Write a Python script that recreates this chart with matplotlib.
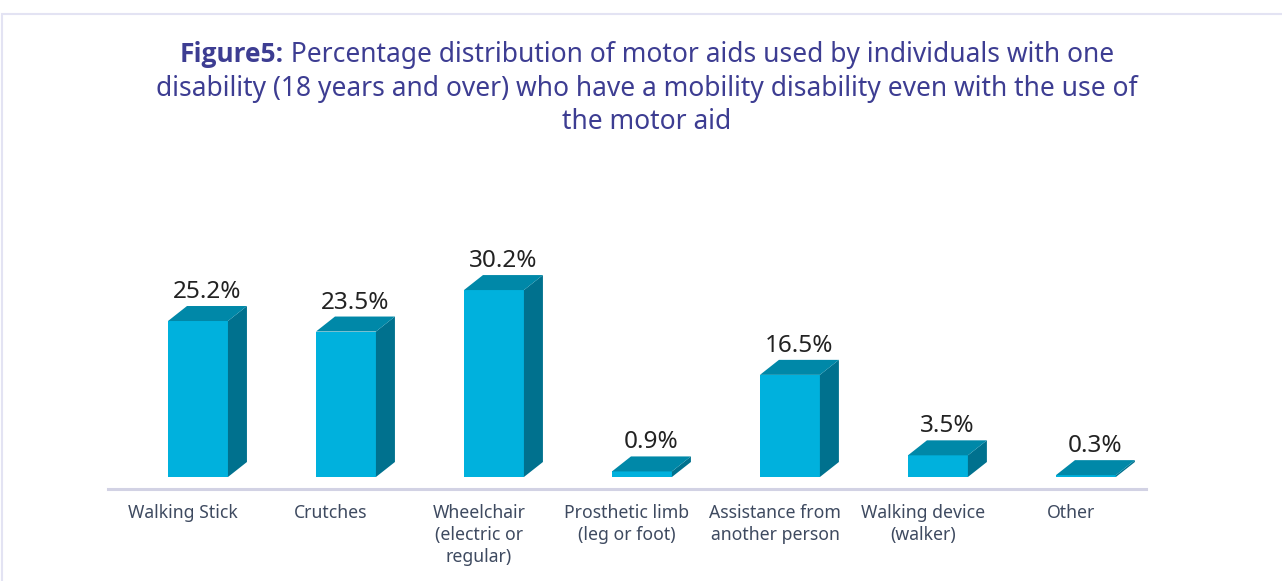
import matplotlib
matplotlib.use("Agg")
import matplotlib.pyplot as plt
from matplotlib.patches import Polygon, Rectangle

categories = ["Walking Stick", "Crutches", "Wheelchair\n(electric or\nregular)",
              "Prosthetic limb\n(leg or foot)", "Assistance from\nanother person",
              "Walking device\n(walker)", "Other"]
values = [25.2, 23.5, 30.2, 0.9, 16.5, 3.5, 0.3]
value_labels = ["25.2%", "23.5%", "30.2%", "0.9%", "16.5%", "3.5%", "0.3%"]
title_bold = "Figure5:"
title_line1 = " Percentage distribution of motor aids used by individuals with one"
title_rest = "disability (18 years and over) who have a mobility disability even with the use of\nthe motor aid"

W, H = 1282, 581
FONT = "Noto Sans"
plt.rcParams['font.family'] = [FONT, 'DejaVu Sans']

fig = plt.figure(figsize=(W / 100, H / 100), dpi=100)
fig.patch.set_facecolor("white")

# border
fig.patches.append(Rectangle((2 / W, -0.1), 1.2, (H - 14) / H + 0.1,
                             transform=fig.transFigure, fill=False,
                             edgecolor="#E3E3F3", linewidth=1.5))

ax_left, ax_right = 108, 1146
ax_base_px, ax_top_px = 489, 240
ax = fig.add_axes([ax_left / W, (H - ax_base_px) / H,
                   (ax_right - ax_left) / W, (ax_base_px - ax_top_px) / H])
px_per_unit = 6.19
ax.set_xlim(-0.507, len(values) - 1 + 0.507)
ax.set_ylim(-12 / px_per_unit, (477 - ax_top_px) / px_per_unit)
ax.axis("off")
ax.axhline(ax.get_ylim()[0], color="#D2D2E4", linewidth=2.2, clip_on=False)

front_c = "#00B1DD"
top_c = "#0088A8"
side_c = "#00718E"
bar_w = 0.405
bar_off = 0.101
dx = 19 / 148
dy = 15 / px_per_unit

for i, v in enumerate(values):
    x0 = i + bar_off - bar_w / 2
    x1 = x0 + bar_w
    ax.bar(i + bar_off, v, width=bar_w, color=front_c, linewidth=0, zorder=2)
    ax.add_patch(Polygon([(x1, 0), (x1 + dx, dy), (x1 + dx, v + dy), (x1, v)],
                         closed=True, facecolor=side_c, linewidth=0, zorder=2))
    ax.add_patch(Polygon([(x0, v), (x0 + dx, v + dy), (x1 + dx, v + dy), (x1, v)],
                         closed=True, facecolor=top_c, linewidth=0, zorder=3))
    ax.text(i + bar_off + dx / 2, v + dy + 14 / px_per_unit, value_labels[i],
            ha="center", va="center", fontsize=17.5, color="#222222")
    ax.text(i, ax.get_ylim()[0] - 15 / px_per_unit, categories[i],
            ha="center", va="top", fontsize=12.7, color="#3E4A60",
            linespacing=1.28)

# title
tcol = "#3D3D92"
tfs = 19
fig.canvas.draw()
r = fig.canvas.get_renderer()
tb = fig.text(0, 0, title_bold, fontsize=tfs, fontweight="bold", color=tcol,
              family=["Open Sans", "DejaVu Sans"])
tr = fig.text(0, 0, title_line1, fontsize=tfs, color=tcol)
wb = tb.get_window_extent(r).width
wr = tr.get_window_extent(r).width
cx = 647
start = cx - (wb + wr) / 2
line_y = [55, 89, 122]
tb.set_position((start / W, (H - line_y[0]) / H))
tb.set_va("center")
tr.set_position(((start + wb) / W, (H - line_y[0]) / H))
tr.set_va("center")
for k, line in enumerate(title_rest.split("\n")):
    fig.text(cx / W, (H - line_y[k + 1]) / H, line, fontsize=tfs, color=tcol,
             ha="center", va="center")

fig.savefig("out.png", dpi=100, facecolor="white")
